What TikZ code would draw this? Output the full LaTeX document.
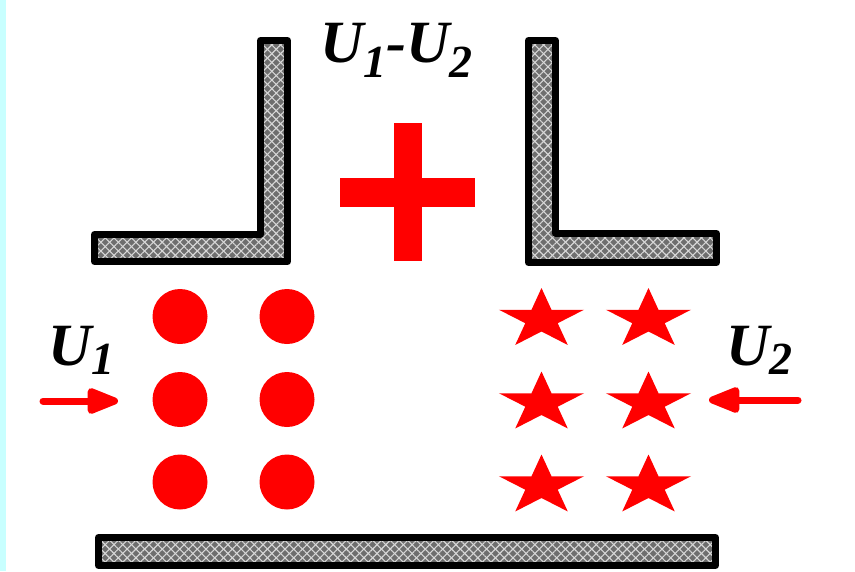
\documentclass[tikz,border=0pt]{standalone}
\usepackage{fontspec}
\setmainfont{Liberation Serif}
\usetikzlibrary{arrows.meta,patterns.meta}
\definecolor{wallgray}{RGB}{110,110,110}
\definecolor{hatch}{RGB}{215,215,215}
\definecolor{strip}{RGB}{200,255,255}
\definecolor{pred}{RGB}{255,0,0}
\newcommand\lsub[2]{\raisebox{#1}{\fontsize{46}{46}\selectfont #2}}
\tikzset{
  wall/.style={draw=black, line width=7pt, line join=round,
    preaction={fill=wallgray},
    preaction={pattern={Lines[angle=45,distance=6.2pt,line width=1.1pt]}, pattern color=hatch},
    preaction={pattern={Lines[angle=-45,distance=6.2pt,line width=1.1pt]}, pattern color=hatch}},
  lab/.style={inner sep=0pt, anchor=base west, font=\fontsize{60}{64}\selectfont\bfseries\itshape},
  dot/.style={circle, fill=pred, inner sep=0pt, minimum size=55pt},
  flow/.style={draw=pred, line width=7pt, line cap=round, -{Triangle[length=37pt,width=27pt,round=false]}},
  redstar/.pic={\fill[pred] (-90:31.5) -- (-54:12) -- (-18:31.5) -- (18:12) -- (54:31.5) -- (90:12) -- (126:31.5) -- (162:12) -- (198:31.5) -- (234:12) -- cycle;}
}
\begin{document}
\begin{tikzpicture}[x=1pt,y=-1pt]
\useasboundingbox (0,0) rectangle (855,571);
\fill[white] (0,0) rectangle (855,571);
\fill[strip] (0,0) rectangle (6,571);
% walls
\path[wall] (260.5,40.5) -- (287.5,40.5) -- (287.5,261.5) -- (94.5,261.5) -- (94.5,234.5) -- (260.5,234.5) -- cycle;
\path[wall] (528.5,40.5) -- (555.5,40.5) -- (555.5,233.5) -- (716.5,233.5) -- (716.5,262.5) -- (528.5,262.5) -- cycle;
\path[wall] (98.5,537.5) rectangle (715.5,565.5);
% plus sign
\fill[pred] (394,123) rectangle (422,261);
\fill[pred] (340,178) rectangle (475,207);
% labels
\node[lab] (top) at (320,62) {U\lsub{-15pt}{1}-U\lsub{-15pt}{2}};
\node[lab] (u1) at (48,365) {U\lsub{-9pt}{1}};
\node[lab] (u2) at (726,365) {U\lsub{-9pt}{2}};
% circles
\foreach \c/\x in {a/180,b/287}{
  \foreach \r/\y in {1/316.5,2/399.5,3/482}{
    \node[dot] (c\c\r) at (\x,\y) {};
  }
}
% stars
\foreach \x in {541.5,648.5}{
  \foreach \y in {319.5,403,486}{
    \pic[xscale=1.42] at (\x,\y) {redstar};
  }
}
% arrows
\coordinate (l0) at (43,401);
\coordinate (l1) at (118,401);
\coordinate (r0) at (798,400);
\coordinate (r1) at (709,400);
\draw[flow] (l0) -- (l1);
\draw[flow] (r0) -- (r1);
\end{tikzpicture}
\end{document}
